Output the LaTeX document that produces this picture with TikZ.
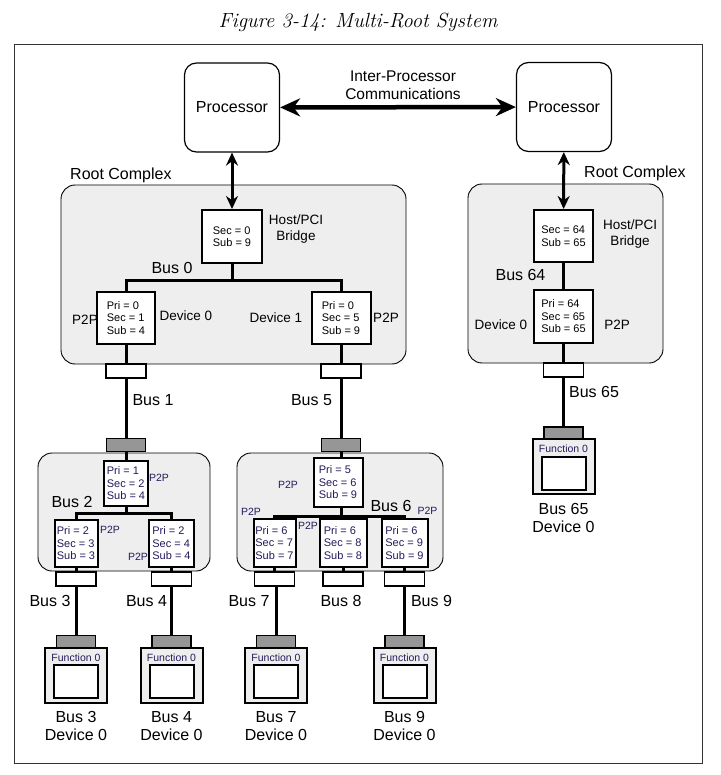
\documentclass[tikz,border=0pt]{standalone}
\usepackage{fontspec}
\setsansfont{Liberation Sans}
\usetikzlibrary{arrows.meta}

\definecolor{regtext}{RGB}{40,25,90}
\definecolor{cplxfill}{RGB}{238,238,238}
\definecolor{slotgray}{RGB}{150,150,150}

\tikzset{
  proc/.style={draw, rounded corners=12pt, line width=1.2pt, minimum width=95pt, minimum height=89pt, font=\sffamily\fontsize{16}{18}\selectfont},
  cplx/.style={draw, rounded corners=14pt, line width=0.9pt, fill=cplxfill},
  regbox/.style={draw, line width=2pt, fill=white, align=left, inner sep=1.5pt, font=\sffamily\fontsize{11}{12.5}\selectfont},
  subreg/.style={regbox, text=regtext},
  conn/.style={draw, line width=1.2pt, fill=white, minimum width=40pt, minimum height=14pt, inner sep=0pt},
  slot/.style={draw, line width=1.2pt, fill=slotgray, minimum width=39pt, minimum height=13pt, inner sep=0pt},
  devbox/.style={draw, line width=2pt, fill=cplxfill, minimum width=62pt, minimum height=55pt, inner sep=0pt},
  devin/.style={draw, line width=2pt, fill=white, minimum width=44pt, minimum height=33pt, inner sep=0pt},
  bus/.style={line width=3pt},
  updown/.style={line width=3pt, {Stealth[length=13pt,width=12pt]}-{Stealth[length=13pt,width=12pt]}},
  ipc/.style={line width=4.5pt, {Stealth[length=20pt,width=18pt]}-{Stealth[length=20pt,width=18pt]}},
  buslbl/.style={font=\sffamily\fontsize{16}{18}\selectfont, inner sep=0pt, align=center},
  devlbl/.style={font=\sffamily\fontsize{13.5}{16}\selectfont, inner sep=0pt, align=center},
  smlbl/.style={font=\sffamily\fontsize{10.5}{12}\selectfont, inner sep=0pt, text=regtext},
}

\begin{document}
\begin{tikzpicture}[x=1pt, y=-1pt]
    \useasboundingbox (0,0) rectangle (720,775);
    % caption and frame
    \node[font=\rmfamily\itshape\fontsize{20.5}{22}\selectfont] (title) at (358,22) {Figure 3-14: Multi-Root System};
    \draw[black!80, line width=1pt] (14,45) rectangle (702,763);

    % processors
    \node[proc] (procA) at (232,107.5) {Processor};
    \node[proc] (procB) at (564,107) {Processor};
    \node[buslbl, font=\sffamily\fontsize{15.5}{18}\selectfont] (ipcl) at (403,85) {Inter-Processor\\Communications};
    \draw[ipc] (procA) -- (procB);

    % complexes and switches
    \node[cplx, minimum width=345pt, minimum height=179pt] (rcA) at (233.5,274.5) {};
    \node[cplx, minimum width=195pt, minimum height=179pt] (rcB) at (565.5,273.5) {};
    \node[cplx, minimum width=172pt, minimum height=118pt] (swA) at (124,512) {};
    \node[cplx, minimum width=206pt, minimum height=118pt] (swB) at (340,512) {};
    \node[buslbl, anchor=west] (rcAl) at (70,175) {Root Complex};
    \node[buslbl, anchor=west] (rcBl) at (584,173) {Root Complex};

    % left root complex
    \node[regbox, minimum width=60pt, minimum height=53pt] (hbA) at (232,236.5) {Sec = 0\\Sub = 9};
    \node[regbox, minimum width=58pt, minimum height=52pt] (p2p0) at (126,318) {Pri = 0\\Sec = 1\\Sub = 4};
    \node[regbox, minimum width=59pt, minimum height=52pt] (p2p1) at (341,318) {Pri = 0\\Sec = 5\\Sub = 9};
    \node[devlbl] (hbAl) at (296,229.5) {Host/PCI\\Bridge};
    \node[buslbl] (bus0l) at (172,268) {Bus 0};
    \node[devlbl] (p2p0a) at (85,320) {P2P};
    \node[devlbl] (p2p0b) at (186,316) {Device 0};
    \node[devlbl] (p2p1a) at (276,318) {Device 1};
    \node[devlbl] (p2p1b) at (386,318) {P2P};
    \coordinate (bus0) at (232,280);
    \draw[updown] (procA) -- (hbA);
    \draw[bus] (hbA) -- (bus0);
    \draw[bus] (p2p0) |- (bus0) -| (p2p1);

    % right root complex
    \node[regbox, minimum width=59pt, minimum height=52pt] (hbB) at (563.5,236) {Sec = 64\\Sub = 65};
    \node[regbox, minimum width=59pt, minimum height=53pt] (p2p64) at (563.5,316.5) {Pri = 64\\Sec = 65\\Sub = 65};
    \node[devlbl] (hbBl) at (630,234) {Host/PCI\\Bridge};
    \node[buslbl] (bus64l) at (520.5,275) {Bus 64};
    \node[devlbl] (p2p64a) at (501,325) {Device 0};
    \node[devlbl] (p2p64b) at (617,325) {P2P};
    \draw[updown] (procB) -- (hbB);
    \draw[bus] (hbB) -- (p2p64);

    % links down to the switches
    \node[conn] (conn1) at (126,371) {};
    \node[conn] (conn5) at (341,371) {};
    \node[conn] (conn65) at (563.5,370) {};
    \node[slot] (slotA) at (126,445) {};
    \node[slot] (slotB) at (341,445) {};
    \node[slot] (slot65) at (563.5,433.5) {};
    \draw[bus] (p2p0) -- (conn1) -- (slotA);
    \draw[bus] (p2p1) -- (conn5) -- (slotB);
    \draw[bus] (p2p64) -- (conn65) -- (slot65);
    \node[buslbl] (bus1l) at (153,400) {Bus 1};
    \node[buslbl] (bus5l) at (311.5,400) {Bus 5};
    \node[buslbl] (bus65l) at (594,392) {Bus 65};

    % left switch
    \node[subreg, minimum width=44pt, minimum height=45pt] (p2pA) at (126,483.5) {Pri = 1\\Sec = 2\\Sub = 4};
    \node[subreg, minimum width=43pt, minimum height=47pt] (p2p3) at (76,543.5) {Pri = 2\\Sec = 3\\Sub = 3};
    \node[subreg, minimum width=45pt, minimum height=47pt] (p2p4) at (171.5,543.5) {Pri = 2\\Sec = 4\\Sub = 4};
    \node[smlbl] (p2pAl) at (159,478) {P2P};
    \node[smlbl] (p2p3l) at (110,530) {P2P};
    \node[smlbl] (p2p4l) at (138,557) {P2P};
    \node[buslbl] (bus2l) at (72,502) {Bus 2};
    \coordinate (bus2) at (126,513);
    \draw[bus] (slotA) -- (p2pA);
    \draw[bus] (p2pA) -- (bus2);
    \draw[bus] (p2p3) |- (bus2) -| (p2p4);

    % right switch
    \node[subreg, minimum width=49pt, minimum height=49pt] (p2pB) at (338,482.5) {Pri = 5\\Sec = 6\\Sub = 9};
    \node[subreg, minimum width=42pt, minimum height=48pt] (p2p7) at (274.5,543) {Pri = 6\\Sec = 7\\Sub = 7};
    \node[subreg, minimum width=47pt, minimum height=48pt] (p2p8) at (343,543) {Pri = 6\\Sec = 8\\Sub = 8};
    \node[subreg, minimum width=46pt, minimum height=48pt] (p2p9) at (404.5,543) {Pri = 6\\Sec = 9\\Sub = 9};
    \node[smlbl] (p2pBl) at (288,485) {P2P};
    \node[smlbl] (p2p7l) at (251,512) {P2P};
    \node[smlbl] (p2p8l) at (308,526) {P2P};
    \node[smlbl] (p2p9l) at (427.5,511) {P2P};
    \node[buslbl] (bus6l) at (391,506) {Bus 6};
    \coordinate (bus6) at (341,516);
    \draw[bus] (slotB) -- (slotB |- p2pB.north);
    \draw[bus] (p2pB.south -| bus6) -- (bus6);
    \draw[bus] (p2p7) |- (bus6) -| (p2p9);
    \draw[bus] (p2p8.north) -- (p2p8.north |- bus6);

    % links down to the devices
    \node[conn] (conn3) at (76,579) {};
    \node[conn] (conn4) at (171.5,579) {};
    \node[conn] (conn7) at (274.5,579) {};
    \node[conn] (conn8) at (343,579) {};
    \node[conn] (conn9) at (404.5,579) {};
    \draw[bus] (p2p3) -- (conn3);
    \draw[bus] (p2p4) -- (conn4);
    \draw[bus] (p2p7) -- (conn7);
    \draw[bus] (p2p8) -- (conn8);
    \draw[bus] (p2p9) -- (conn9);
    \node[buslbl] (bus3l) at (50,601) {Bus 3};
    \node[buslbl] (bus4l) at (146.5,601) {Bus 4};
    \node[buslbl] (bus7l) at (249,601) {Bus 7};
    \node[buslbl] (bus8l) at (341,601) {Bus 8};
    \node[buslbl] (bus9l) at (431.5,601) {Bus 9};

    % devices
    \node[slot] (slot3) at (76,642) {};
    \node[devbox] (dev3) at (76,675.5) {};
    \node[smlbl] (dev3f) at (76,658) {Function 0};
    \node[devin] (dev3in) at (76,681.5) {};
    \node[buslbl] (dev3l) at (76,726) {Bus 3\\Device 0};
    \draw[bus] (conn3) -- (slot3);

    \node[slot] (slot4) at (171.5,642) {};
    \node[devbox] (dev4) at (171.5,675.5) {};
    \node[smlbl] (dev4f) at (171.5,658) {Function 0};
    \node[devin] (dev4in) at (171.5,681.5) {};
    \node[buslbl] (dev4l) at (171.5,726) {Bus 4\\Device 0};
    \draw[bus] (conn4) -- (slot4);

    \node[slot] (slot7) at (276,642) {};
    \node[devbox] (dev7) at (276,675.5) {};
    \node[smlbl] (dev7f) at (276,658) {Function 0};
    \node[devin] (dev7in) at (276,681.5) {};
    \node[buslbl] (dev7l) at (276,726) {Bus 7\\Device 0};
    \draw[bus] (conn7.south -| slot7) -- (slot7);

    \node[slot] (slot9) at (404.5,642) {};
    \node[devbox] (dev9) at (404.5,675.5) {};
    \node[smlbl] (dev9f) at (404.5,658) {Function 0};
    \node[devin] (dev9in) at (404.5,681.5) {};
    \node[buslbl] (dev9l) at (404.5,726) {Bus 9\\Device 0};
    \draw[bus] (conn9) -- (slot9);

    \node[devbox] (dev65) at (563.5,466.5) {};
    \node[smlbl] (dev65f) at (563.5,449) {Function 0};
    \node[devin] (dev65in) at (563.5,473.5) {};
    \node[buslbl] (dev65l) at (563.5,517.5) {Bus 65\\Device 0};
\end{tikzpicture}
\end{document}
